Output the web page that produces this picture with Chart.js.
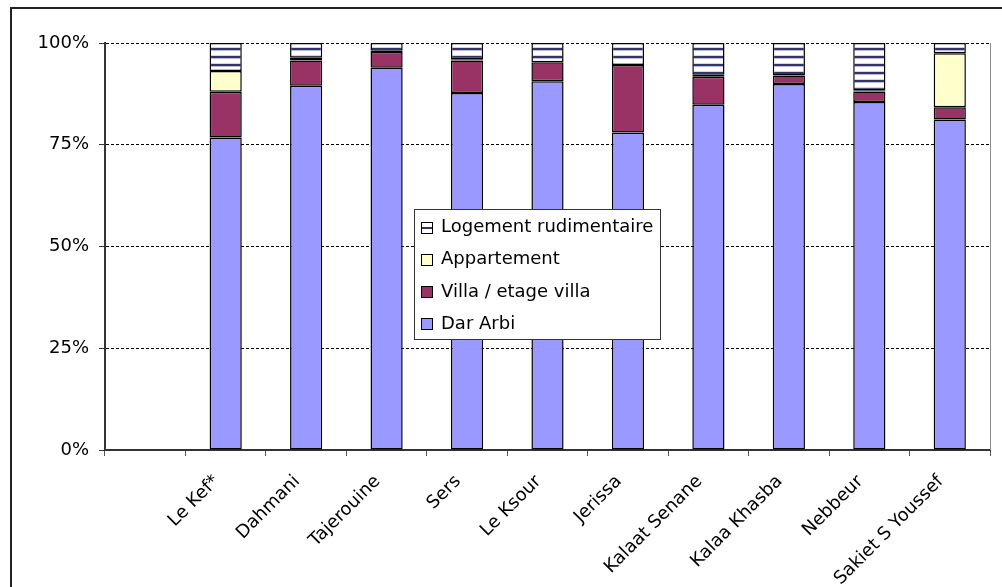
<!DOCTYPE html>
<html>
<head>
<meta charset="utf-8">
<script src="https://cdn.jsdelivr.net/npm/chart.js@4"></script>
<style>
  html, body { margin: 0; padding: 0; background: #fff; }
  #wrap { width: 1002px; height: 587px; position: relative; }
</style>
</head>
<body>
<div id="wrap"><canvas id="c" width="1002" height="587"></canvas></div>
<script>
// Délégations (the first slot is left empty on purpose)
const categories = ['', 'Le Kef*', 'Dahmani', 'Tajerouine', 'Sers', 'Le Ksour', 'Jerissa',
  'Kalaat Senane', 'Kalaa Khasba', 'Nebbeur', 'Sakiet S Youssef'];

// Share of dwellings by type, in %
const darArbi   = [null, 76.8, 89.5, 93.9, 87.7, 90.6, 78.0, 84.8, 89.9, 85.5, 81.2];
const villa     = [null, 11.2,  6.2,  3.9,  8.0,  4.7, 16.6,  6.9,  2.1,  2.6,  3.0];
const appart    = [null,  5.1,  0.7,  0.3,  0.3,  0.0,  0.0,  0.5,  0.0,  0.3, 13.3];
const logement  = [null,  6.9,  3.6,  1.9,  4.0,  4.7,  5.4,  7.8,  8.0, 11.6,  2.5];

const yTicks = [0, 25, 50, 75, 100];

const FONT = 'DejaVu Sans';

// horizontal hatch fill for "Logement rudimentaire"
function hatch() {
  const t = document.createElement('canvas');
  t.width = 8; t.height = 8;
  const g = t.getContext('2d');
  g.fillStyle = '#ffffff'; g.fillRect(0, 0, 8, 8);
  g.fillStyle = '#33336a'; g.fillRect(0, 0, 8, 2);
  g.fillStyle = '#bcbcdc'; g.fillRect(0, 2, 8, 1);
  g.fillStyle = '#d4d4ea'; g.fillRect(0, 7, 8, 1);
  return g.createPattern(t, 'repeat');
}
const hatchFill = hatch();

const frame = {
  id: 'frame',
  beforeDraw(chart) {
    const ctx = chart.ctx;
    ctx.save();
    ctx.fillStyle = '#fff';
    ctx.fillRect(0, 0, chart.width, chart.height);
    ctx.restore();
  },
  afterDatasetsDraw(chart) {
    const { ctx, chartArea: a } = chart;
    ctx.save();
    // right edge of the plot area
    ctx.strokeStyle = '#8c8c8c';
    ctx.lineWidth = 1;
    ctx.beginPath();
    ctx.moveTo(a.right + 0.5, a.top);
    ctx.lineTo(a.right + 0.5, a.bottom);
    ctx.stroke();
    // outer chart frame
    ctx.strokeStyle = '#222';
    ctx.lineWidth = 2;
    ctx.strokeRect(11, 8, chart.width + 50, chart.height + 50);
    ctx.restore();
  }
};

// legend box inside the plot, series listed top-down in reverse order
const boxLegend = {
  id: 'boxLegend',
  afterDraw(chart) {
    const ctx = chart.ctx;
    const x = 414, y = 209, w = 246, h = 130;
    ctx.save();
    ctx.fillStyle = '#fff';
    ctx.fillRect(x, y, w, h);
    ctx.strokeStyle = '#333';
    ctx.lineWidth = 1;
    ctx.strokeRect(x + 0.5, y + 0.5, w, h);
    const ds = chart.data.datasets.slice().reverse();
    ctx.font = '18px "' + FONT + '"';
    ctx.textBaseline = 'middle';
    ds.forEach((d, i) => {
      const cy = 227.5 + i * 32.3;
      const sx = 421, sy = Math.round(cy - 6);
      if (d.legendPattern) {
        ctx.fillStyle = '#fff';
        ctx.fillRect(sx, sy, 12, 12);
        ctx.fillStyle = '#33336a';
        ctx.fillRect(sx, sy + 5, 12, 2);
      } else {
        ctx.fillStyle = d.backgroundColor;
        ctx.fillRect(sx, sy, 12, 12);
      }
      ctx.strokeStyle = '#000';
      ctx.strokeRect(sx + 0.5, sy + 0.5, 11, 11);
      ctx.fillStyle = '#000';
      ctx.fillText(d.label, 441, cy);
    });
    ctx.restore();
  }
};

const barCommon = { borderColor: '#000', borderWidth: 1.5, borderSkipped: false,
  categoryPercentage: 1.0, barPercentage: 0.4 };

new Chart(document.getElementById('c'), {
  type: 'bar',
  data: {
    labels: categories,
    datasets: [
      Object.assign({ label: 'Dar Arbi', data: darArbi, backgroundColor: '#9999FF' }, barCommon),
      Object.assign({ label: 'Villa / etage villa', data: villa, backgroundColor: '#993366' }, barCommon),
      Object.assign({ label: 'Appartement', data: appart, backgroundColor: '#FFFFCC' }, barCommon),
      Object.assign({ label: 'Logement rudimentaire', data: logement, backgroundColor: hatchFill, legendPattern: true }, barCommon)
    ]
  },
  options: {
    responsive: false,
    animation: false,
    devicePixelRatio: 1,
    layout: { padding: { left: 0, top: 43, right: 12, bottom: 0 } },
    plugins: { legend: { display: false }, tooltip: { enabled: false } },
    scales: {
      x: {
        stacked: true,
        grid: { drawOnChartArea: false, drawTicks: true, tickLength: 6, tickColor: '#555', offset: true },
        border: { display: true, color: '#333', width: 2 },
        ticks: {
          autoSkip: false, minRotation: 45, maxRotation: 45, padding: 15, labelOffset: -9,
          color: '#000', font: { family: FONT, size: 18 }
        },
        afterFit(s) { s.height = 137; }
      },
      y: {
        stacked: true,
        min: 0, max: 100,
        afterBuildTicks(s) { s.ticks = yTicks.map(v => ({ value: v })); },
        grid: { color: '#000', lineWidth: 1, drawTicks: true, tickLength: 6, tickColor: '#333' },
        border: { display: true, color: '#333', width: 2, dash: [3, 2] },
        ticks: {
          padding: 10, color: '#000', font: { family: FONT, size: 18 },
          callback: v => v + '%'
        },
        afterFit(s) { s.width = 105; }
      }
    }
  },
  plugins: [frame, boxLegend]
});
</script>
</body>
</html>
